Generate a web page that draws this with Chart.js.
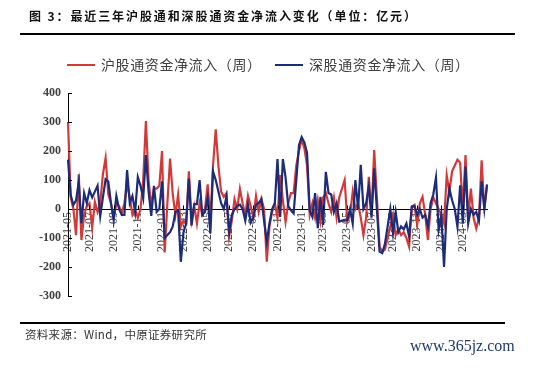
<!DOCTYPE html>
<html>
<head>
<meta charset="utf-8">
<script src="https://cdn.jsdelivr.net/npm/chart.js@4/dist/chart.umd.min.js"></script>
<style>
  html, body { margin: 0; padding: 0; background: #fff; }
  body { width: 534px; height: 368px; position: relative; overflow: hidden; font-family: "Noto Sans CJK SC", sans-serif; }
  #chart { position: absolute; left: 0; top: 0; }
  .title { position: absolute; left: 29px; top: 7px; font-size: 12px; letter-spacing: 1.9px; font-weight: bold; color: #111; white-space: nowrap; }
  .rule { position: absolute; left: 20px; height: 2px; background: #000; }
  .legend { position: absolute; top: 54px; font-size: 14px; letter-spacing: 0.6px; color: #404040; white-space: nowrap; }
  .legend i { display: inline-block; width: 28px; height: 2.5px; vertical-align: middle; margin-right: 6px; position: relative; top: -1px; }
  .source { position: absolute; left: 25px; top: 326px; font-size: 11.5px; letter-spacing: 0.3px; color: #333; white-space: nowrap; }
  .mark { position: absolute; left: 410px; top: 337px; font-family: "Liberation Serif", serif; font-size: 16px; color: #1d3b6b; white-space: nowrap; }
</style>
</head>
<body>
<canvas id="chart" width="534" height="368"></canvas>
<div class="title">图 3：最近三年沪股通和深股通资金净流入变化（单位：亿元）</div>
<div class="rule" style="top:33px;width:495px"></div>
<div class="legend" style="left:67px"><i style="background:#d23a3a"></i>沪股通资金净流入（周）</div>
<div class="legend" style="left:275px"><i style="background:#1c2c78"></i>深股通资金净流入（周）</div>
<div class="rule" style="top:322px;width:485px"></div>
<div class="source">资料来源：Wind，中原证券研究所</div>
<div class="mark">www.365jz.com</div>
<script>
// weekly net inflow, 亿元
const START_WEEK = '2021-05-07'
const WEEK_COUNT = 157

const tickMonths = ['2021-05', '2021-07', '2021-09', '2021-11', '2022-01', '2022-03',
  '2022-05', '2022-07', '2022-09', '2022-11', '2023-01', '2023-03', '2023-05',
  '2023-07', '2023-09', '2023-11', '2024-01', '2024-03']

const yTicks = [-300, -200, -100, 0, 100, 200, 300, 400]

const shanghai = [300, 40, 0, -90, 120, -107, -20, 10, 20, -65,
  25, -10, 20, 120, 176, 50, 20, -30, 20, 10,
  -15, 20, 85, 40, -20, 0, -30, 0, 100, 303,
  100, 10, 70, 70, 80, 200, -150, 20, 174, 50,
  -20, 50, -60, -40, -50, 130, -40, 10, -50, 20,
  -20, 0, 85, -40, 150, 275, 150, 60, 42, 55,
  -95, -40, 34, 0, 69, 20, -20, 46, 10, -30,
  45, -10, 35, 0, -182, -60, -10, 20, -30, 117,
  30, -44, 20, 55, 55, 150, 200, 240, 210, 150,
  -20, 20, -30, 30, -40, 40, 55, 20, -10, 40,
  -30, 40, 70, 100, -44, -20, 60, 0, 20, -30,
  -90, -30, 111, -20, 203, 40, -130, -147, -140, -100,
  -60, -20, -90, -70, -90, -80, -100, -130, 8, 14,
  -55, 20, 42, -20, -107, 0, 40, 20, 0, -20,
  -50, 117, 60, 130, 150, 170, 160, 0, 186, -30,
  70, -30, -67, -30, 168, 0, 80]

const shenzhen = [170, 48, 14, 30, 93, -50, 55, 20, 65, 40,
  60, 80, -25, 40, 103, 95, 20, -38, 45, 0,
  -20, -20, 134, 20, 45, -10, 110, 80, 37, 186,
  60, -24, 80, -10, 0, 95, -100, -90, -80, -60,
  -10, -5, -182, -80, -50, 105, -57, 17, 17, 100,
  -20, -10, 40, -84, 129, 100, 60, 20, 0, 42,
  -78, -20, 0, 11, 15, 0, -40, 15, -47, -30,
  14, 20, 34, -40, -113, -50, 0, 20, 172, -27,
  172, 110, 10, -5, -15, 100, 220, 248, 230, 193,
  -5, -27, 55, -66, 42, -55, 128, 55, 50, -10,
  20, -44, -40, -40, -38, 0, -50, 100, 0, 152,
  0, 20, 77, -30, 140, 0, -147, -152, -120, -60,
  0, -84, -10, -80, -60, -70, -50, -95, 8, 10,
  -20, 0, -30, -20, -60, 20, 50, 108, -72, -20,
  -200, 0, 70, 30, 0, -61, 82, -50, 146, -50,
  0, -20, -10, -40, 95, 0, 85]

// week labels, one per Friday
const weeks = []
const cursor = new Date(START_WEEK + 'T00:00:00Z')
for (let i = 0; i < WEEK_COUNT; i++) {
  weeks.push(cursor.toISOString().slice(0, 10))
  cursor.setUTCDate(cursor.getUTCDate() + 7)
}

function monthLabel(index) {
  const month = weeks[index].slice(0, 7)
  if (!tickMonths.includes(month)) return null
  if (index > 0 && weeks[index - 1].slice(0, 7) === month) return null
  return month
}

// Excel-style short ticks pointing into the plot
const innerTicks = {
  id: 'innerTicks',
  afterDatasetsDraw(chart) {
    const { ctx, scales: { x, y } } = chart
    const y0 = Math.round(y.getPixelForValue(0)) + 0.5
    ctx.save()
    ctx.strokeStyle = '#000'
    ctx.lineWidth = 1
    ctx.beginPath()
    x.ticks.forEach((t, i) => {
      if (!t.label) return
      const px = Math.round(x.getPixelForTick(i)) + 0.5
      ctx.moveTo(px, y0)
      ctx.lineTo(px, y0 - 4)
    })
    y.ticks.forEach((t, i) => {
      const py = Math.round(y.getPixelForTick(i)) + 0.5
      ctx.moveTo(x.left, py)
      ctx.lineTo(x.left + 4, py)
    })
    ctx.stroke()
    ctx.restore()
  }
}

new Chart(document.getElementById('chart'), {
  type: 'line',
  data: {
    labels: weeks,
    datasets: [
      { label: '沪股通资金净流入（周）', data: shanghai, borderColor: '#d23a3a', borderWidth: 2.2, pointRadius: 0, tension: 0, order: 2 },
      { label: '深股通资金净流入（周）', data: shenzhen, borderColor: '#1c2c78', borderWidth: 2.2, pointRadius: 0, tension: 0, order: 1 }
    ]
  },
  options: {
    responsive: false,
    animation: false,
    layout: { padding: { top: 93, bottom: 72, left: 0, right: 47 } },
    plugins: { legend: { display: false }, tooltip: { enabled: false } },
    scales: {
      x: {
        position: { y: 0 },
        afterFit: s => { s.height = 0 },
        grid: { drawOnChartArea: false, drawTicks: false },
        border: { color: '#000', width: 1 },
        ticks: {
          autoSkip: false,
          minRotation: 90,
          maxRotation: 90,
          padding: 3,
          color: '#404040',
          font: { family: 'Liberation Serif', size: 12 },
          callback: (v, i) => monthLabel(i)
        }
      },
      y: {
        min: -300,
        max: 400,
        afterFit: s => { s.width = 68 },
        afterBuildTicks: s => { s.ticks = yTicks.map(v => ({ value: v })) },
        grid: { drawOnChartArea: false, drawTicks: false },
        border: { color: '#000', width: 1 },
        ticks: {
          padding: 7,
          color: '#404040',
          font: { family: 'Liberation Serif', size: 12, weight: 'bold' }
        }
      }
    }
  },
  plugins: [innerTicks]
})
</script>
</body>
</html>
